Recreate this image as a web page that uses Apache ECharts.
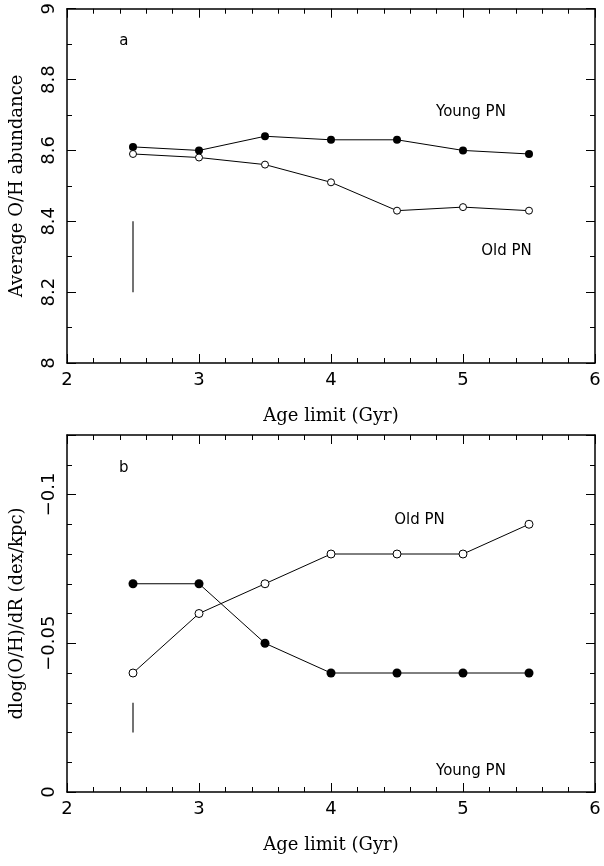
<!DOCTYPE html>
<html>
<head>
<meta charset="utf-8">
<script src="https://cdn.jsdelivr.net/npm/echarts@6/dist/echarts.min.js"></script>
<style>
  html, body { margin: 0; padding: 0; background: #fff; }
  #chart { width: 604px; height: 866px; }
</style>
</head>
<body>
<div id="chart"></div>
<script>
// values
const ageLimits = [2.5, 3, 3.5, 4, 4.5, 5, 5.5];
const youngOH = [8.61, 8.60, 8.64, 8.63, 8.63, 8.60, 8.59];
const oldOH = [8.59, 8.58, 8.56, 8.51, 8.43, 8.44, 8.43];
const youngGrad = [-0.07, -0.07, -0.05, -0.04, -0.04, -0.04, -0.04];
const oldGrad = [-0.04, -0.06, -0.07, -0.08, -0.08, -0.08, -0.09];
const errAge = 2.5;
const errOH = [8.2, 8.4];
const errGrad = [-0.03, -0.02];

// annotations [x, y, text]
const notesA = [[2.43, 8.91, 'a'], [5.06, 8.709, 'Young PN'], [5.33, 8.316, 'Old PN']];
const notesB = [[2.43, -0.109, 'b'], [4.67, -0.0913, 'Old PN'], [5.06, -0.0071, 'Young PN']];

const ink = '#000';
const sans = 'DejaVu Sans';
const serif = 'DejaVu Serif';

const pairs = (xs, ys) => xs.map((x, i) => [x, ys[i]]);
const fmt = v => String(+v.toFixed(2)).replace('-', '\u2212');

function xAxisFor(grid, pos, withLabels) {
    return {
        type: 'value',
        gridIndex: grid,
        position: pos,
        min: 2,
        max: 6,
        interval: 1,
        name: withLabels ? 'Age limit (Gyr)' : '',
        nameLocation: 'middle',
        nameGap: 44,
        nameTextStyle: { color: ink, fontFamily: serif, fontSize: 18 },
        axisLine: { show: true, onZero: false, lineStyle: { color: ink, width: 1.5 } },
        axisTick: { show: true, inside: true, length: 9, lineStyle: { color: ink, width: 1 } },
        minorTick: { show: true, splitNumber: 5, length: 5, lineStyle: { color: ink, width: 1 } },
        axisLabel: { show: withLabels, color: ink, fontFamily: sans, fontSize: 18, margin: 8 },
        splitLine: { show: false }
    };
}

function yAxisOH(pos, withLabels) {
    return {
        type: 'value',
        gridIndex: 0,
        position: pos,
        min: 8,
        max: 9,
        interval: 0.2,
        name: withLabels ? 'Average O/H abundance' : '',
        nameLocation: 'middle',
        nameGap: 41,
        nameTextStyle: { color: ink, fontFamily: serif, fontSize: 18 },
        axisLine: { show: true, onZero: false, lineStyle: { color: ink, width: 1.5 } },
        axisTick: { show: true, inside: true, length: 9, lineStyle: { color: ink, width: 1 } },
        minorTick: { show: true, splitNumber: 2, length: 5, lineStyle: { color: ink, width: 1 } },
        axisLabel: { show: withLabels, rotate: 90, color: ink, fontFamily: sans, fontSize: 18, margin: 9, formatter: fmt },
        splitLine: { show: false }
    };
}

// major ticks at multiples of 0.05, the extent starts at -0.12
function yAxisGrad(pos, withLabels) {
    return {
        type: 'value',
        gridIndex: 1,
        position: pos,
        min: -0.12,
        max: 0,
        inverse: true,
        splitNumber: 2,
        minInterval: 0.05,
        maxInterval: 0.05,
        name: withLabels ? 'dlog(O/H)/dR (dex/kpc)' : '',
        nameLocation: 'middle',
        nameGap: 41,
        nameTextStyle: { color: ink, fontFamily: serif, fontSize: 18 },
        axisLine: { show: true, onZero: false, lineStyle: { color: ink, width: 1.5 } },
        axisTick: { show: true, inside: true, length: 9, lineStyle: { color: ink, width: 1 } },
        axisLabel: {
            show: withLabels, rotate: 90, color: ink, fontFamily: sans, fontSize: 18, margin: 9,
            formatter: v => (Math.round(v * 100) % 5 === 0 ? fmt(v) : '')
        },
        splitLine: { show: false }
    };
}

function yAxisGradMinor(pos) {
    return {
        type: 'value',
        gridIndex: 1,
        position: pos,
        min: -0.12,
        max: 0,
        inverse: true,
        interval: 0.01,
        axisLine: { show: false },
        axisTick: { show: true, inside: true, length: 5, lineStyle: { color: ink, width: 1 } },
        axisLabel: { show: false },
        splitLine: { show: false }
    };
}

function filledLine(x, y, data, size) {
    return {
        type: 'line', xAxisIndex: x, yAxisIndex: y, data,
        symbol: 'circle', symbolSize: size,
        lineStyle: { color: ink, width: 1 },
        itemStyle: { color: ink },
        z: 3
    };
}

function openLine(x, y, data, size) {
    return {
        type: 'line', xAxisIndex: x, yAxisIndex: y, data,
        symbol: 'circle', symbolSize: size,
        lineStyle: { color: ink, width: 1 },
        itemStyle: { color: '#fff', borderColor: ink, borderWidth: 1 },
        z: 3
    };
}

function errBar(x, y, range) {
    return {
        type: 'line', xAxisIndex: x, yAxisIndex: y,
        data: range.map(v => [errAge, v]),
        symbol: 'none',
        lineStyle: { color: '#444', width: 1.5 }
    };
}

function notes(x, y, data) {
    return {
        type: 'scatter', xAxisIndex: x, yAxisIndex: y, data,
        symbolSize: 1,
        itemStyle: { color: 'rgba(0,0,0,0)', opacity: 1 },
        label: {
            show: true, position: 'inside', color: ink, opacity: 1,
            fontFamily: sans, fontSize: 15,
            formatter: p => p.data[2]
        },
        silent: true
    };
}

const chart = echarts.init(document.getElementById('chart'));

chart.setOption({
    animation: false,
    backgroundColor: '#fff',
    grid: [
        { left: 66, top: 6, width: 529, height: 357 },
        { left: 66, top: 435, width: 529, height: 357 }
    ],
    xAxis: [
        xAxisFor(0, 'bottom', true),
        xAxisFor(0, 'top', false),
        xAxisFor(1, 'bottom', true),
        xAxisFor(1, 'top', false)
    ],
    yAxis: [
        yAxisOH('left', true),
        yAxisOH('right', false),
        yAxisGrad('left', true),
        yAxisGrad('right', false),
        yAxisGradMinor('left'),
        yAxisGradMinor('right')
    ],
    series: [
        filledLine(0, 0, pairs(ageLimits, youngOH), 8),
        openLine(0, 0, pairs(ageLimits, oldOH), 7),
        errBar(0, 0, errOH),
        notes(0, 0, notesA),
        filledLine(2, 2, pairs(ageLimits, youngGrad), 9),
        openLine(2, 2, pairs(ageLimits, oldGrad), 8),
        errBar(2, 2, errGrad),
        notes(2, 2, notesB)
    ]
});
</script>
</body>
</html>
